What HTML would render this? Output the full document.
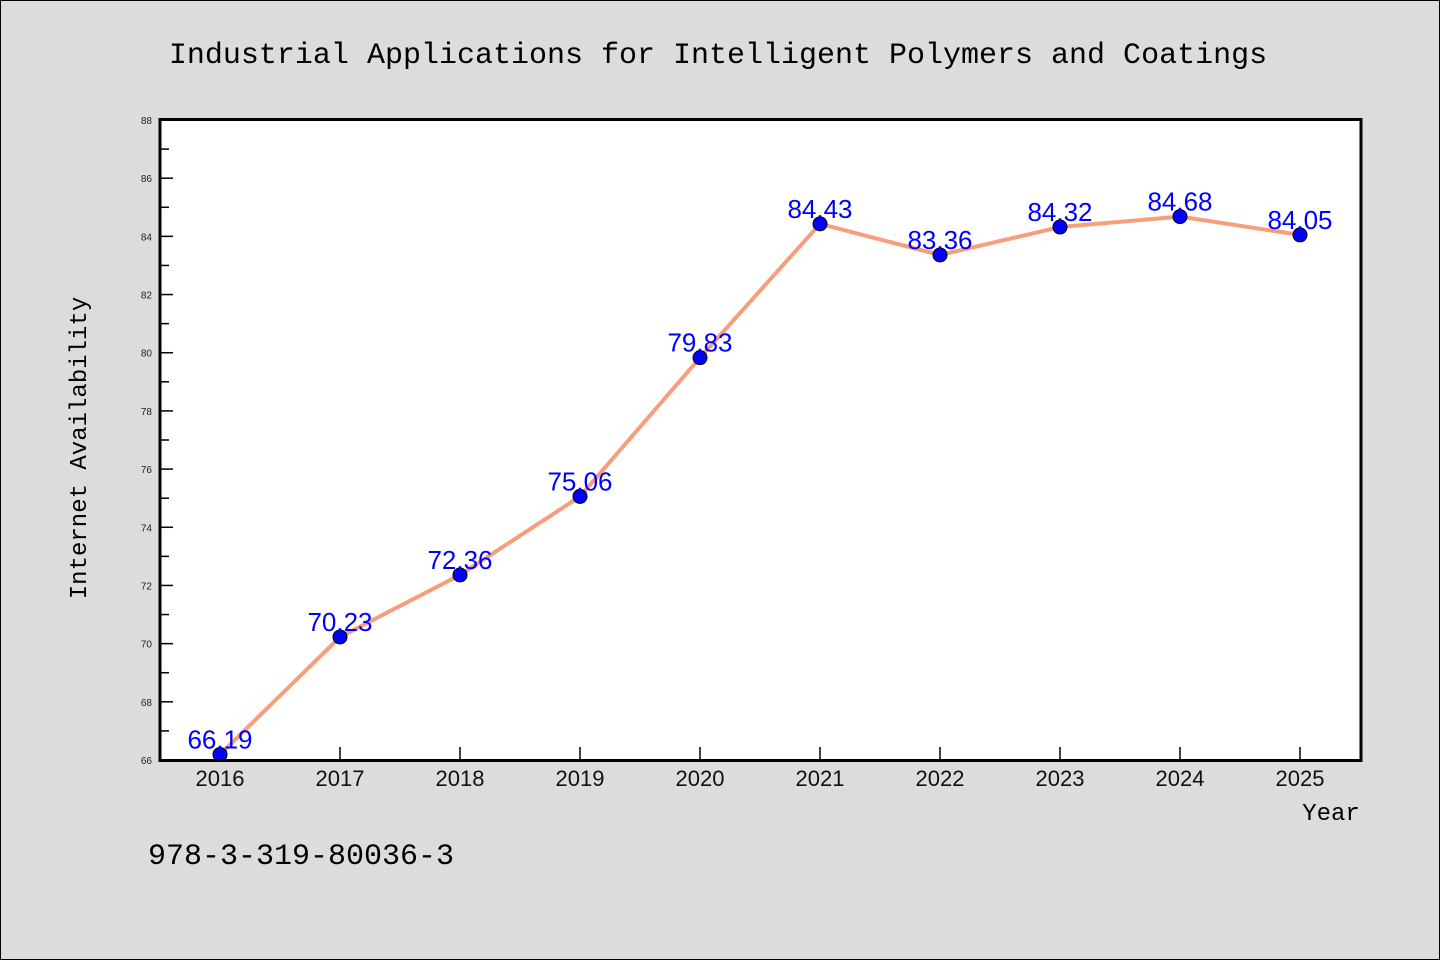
<!DOCTYPE html>
<html><head><meta charset="utf-8"><style>
body{margin:0;background:#dcdcdc;}
svg{display:block;}
text{font-family:"WenQuanYi Zen Hei","Liberation Sans",sans-serif;}
</style></head><body>
<svg id="chart" width="1440" height="960">
<rect x="0.5" y="0.5" width="1439" height="959" fill="#dcdcdc" stroke="#000"/>
<text x="718" y="63" text-anchor="middle" font-size="30" style="font-family:'Liberation Mono',monospace">Industrial Applications for Intelligent Polymers and Coatings</text>
<rect x="160" y="119.5" width="1201" height="641" fill="#fff"/>
<g id="ticks"></g>
<g id="series"></g>
<rect x="160" y="119.5" width="1201" height="641" fill="none" stroke="#000" stroke-width="3"/>
<text x="86" y="448" text-anchor="middle" font-size="24" transform="rotate(-90 86 448)" style="font-family:'Liberation Mono',monospace">Internet Availability</text>
<text x="1331" y="820" text-anchor="middle" font-size="24" style="font-family:'Liberation Mono',monospace">Year</text>
<text x="148" y="864" font-size="30" style="font-family:'Liberation Mono',monospace">978-3-319-80036-3</text>
</svg>
<script>
const years=["2016","2017","2018","2019","2020","2021","2022","2023","2024","2025"];
const values=[66.19,70.23,72.36,75.06,79.83,84.43,83.36,84.32,84.68,84.05];
const yTicks=[66,68,70,72,74,76,78,80,82,84,86,88];
(function(){
const NS="http://www.w3.org/2000/svg";
const yMin=66,yMax=88,yTopPx=120,yBotPx=760;
const xS=i=>220+i*120;
const yS=v=>yBotPx-(v-yMin)/(yMax-yMin)*(yBotPx-yTopPx);
function mk(tag,attrs,parent,txt){const e=document.createElementNS(NS,tag);for(const k in attrs)e.setAttribute(k,attrs[k]);if(txt!==undefined)e.textContent=txt;parent.appendChild(e);return e;}
const tg=document.getElementById('ticks');
yTicks.forEach((t,i)=>{
 const y=yS(t);
 const l=mk('line',{x1:160,x2:173,y1:y,y2:y,stroke:'#000','stroke-width':1.5},tg);
 
 
 const tx=mk('text',{x:152,y:y+4,'text-anchor':'end','font-size':10,fill:'#222'},tg,String(t));
 
 
 if(i<yTicks.length-1){const ym=yS(t+1);
  const m=mk('line',{x1:160,x2:169,y1:ym,y2:ym,stroke:'#000','stroke-width':1.5},tg);
  
  }
});
years.forEach((yr,i)=>{
 const x=xS(i);
 const l=mk('line',{x1:x,x2:x,y1:760,y2:747,stroke:'#000','stroke-width':1.5},tg);
 
 
 const tx=mk('text',{x:x,y:786,'text-anchor':'middle','font-size':22,fill:'#111'},tg,yr);
 
 
});
const sg=document.getElementById('series');
const pl=mk('polyline',{points:values.map((v,i)=>xS(i)+','+yS(v)).join(' '),fill:'none',stroke:'#f79e7c','stroke-width':4,'stroke-linejoin':'round'},sg);


values.forEach((v,i)=>{
 const c=mk('circle',{cx:xS(i),cy:yS(v),r:7,fill:'#0000ff',stroke:'#000','stroke-width':1},sg);
 
 
 const t=mk('text',{x:xS(i),y:yS(v)-6,'text-anchor':'middle','font-size':26,fill:'#0000ff'},sg,v.toFixed(2));
 
 
});
})();
</script>
</body></html>
